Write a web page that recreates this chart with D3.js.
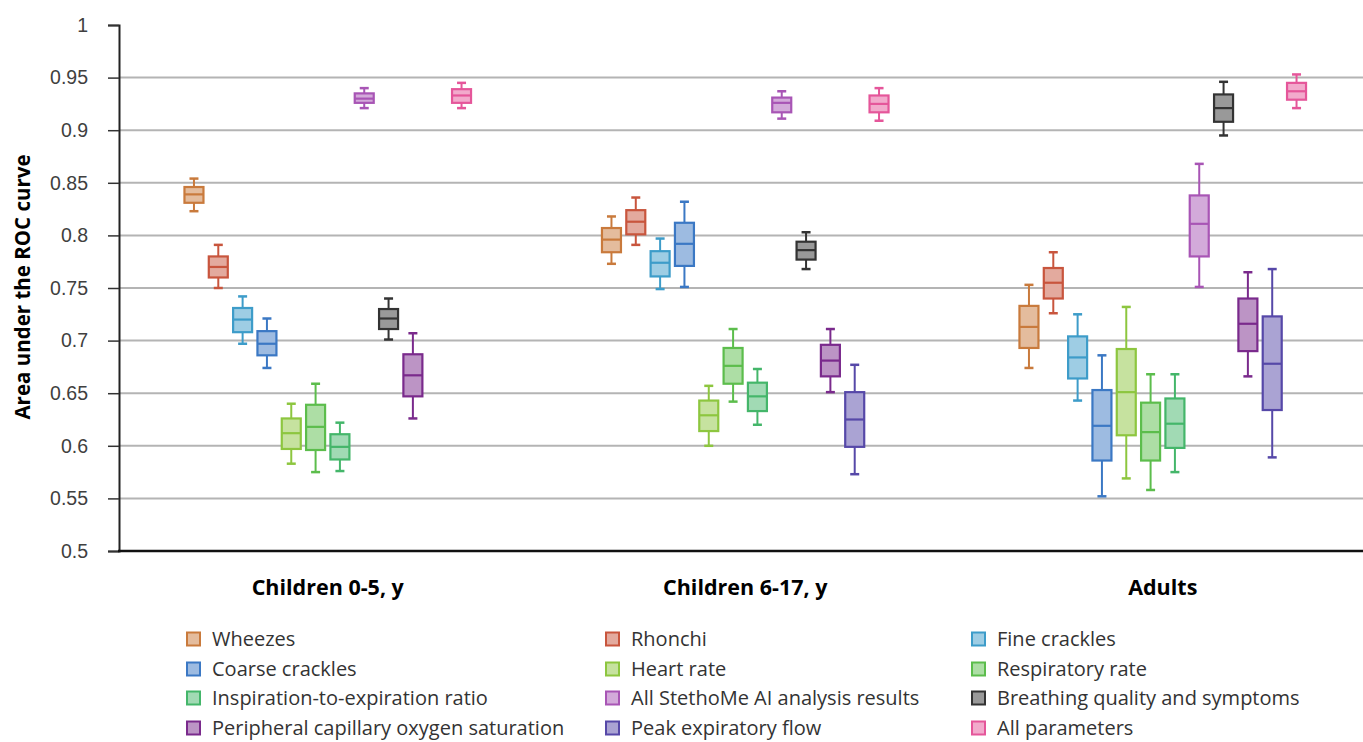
<!DOCTYPE html>
<html>
<head>
<meta charset="utf-8">
<script src="https://cdn.jsdelivr.net/npm/d3@7"></script>
<style>
  body { margin: 0; background: #fff; }
  svg { display: block; font-family: "Open Sans", "Noto Sans", sans-serif; }
</style>
</head>
<body>
<div id="chart"></div>
<script>
// groups on the x axis
const groups = ["Children 0-5, y", "Children 6-17, y", "Adults"];

// series names (legend order, also order inside each group)
const seriesNames = [
    "Wheezes", "Rhonchi", "Fine crackles",
    "Coarse crackles", "Heart rate", "Respiratory rate",
    "Inspiration-to-expiration ratio", "All StethoMe AI analysis results", "Breathing quality and symptoms",
    "Peripheral capillary oxygen saturation", "Peak expiratory flow", "All parameters"
];
const strokeColors = [
    "#c97a3c", "#c8553d", "#3d9cc9",
    "#3b78c4", "#8dc63f", "#5cbd4c",
    "#44b66a", "#a855b5", "#333333",
    "#7a2a8c", "#5648a8", "#e5569a"
];

// [low whisker, q1, median, q3, high whisker] per group
const wheezes    = [[0.823, 0.831, 0.839, 0.846, 0.854], [0.773, 0.784, 0.796, 0.807, 0.818], [0.674, 0.693, 0.713, 0.733, 0.753]];
const rhonchi    = [[0.750, 0.760, 0.770, 0.780, 0.791], [0.791, 0.801, 0.813, 0.824, 0.836], [0.726, 0.740, 0.755, 0.769, 0.784]];
const fineCr     = [[0.697, 0.708, 0.720, 0.731, 0.742], [0.749, 0.761, 0.774, 0.785, 0.797], [0.643, 0.664, 0.684, 0.704, 0.725]];
const coarseCr   = [[0.674, 0.686, 0.697, 0.709, 0.721], [0.751, 0.771, 0.792, 0.812, 0.832], [0.552, 0.586, 0.619, 0.653, 0.686]];
const heartRate  = [[0.583, 0.597, 0.612, 0.626, 0.640], [0.600, 0.614, 0.629, 0.643, 0.657], [0.569, 0.610, 0.651, 0.692, 0.732]];
const respRate   = [[0.575, 0.596, 0.618, 0.639, 0.659], [0.642, 0.659, 0.676, 0.693, 0.711], [0.558, 0.586, 0.613, 0.641, 0.668]];
const ieRatio    = [[0.576, 0.587, 0.599, 0.611, 0.622], [0.620, 0.633, 0.647, 0.660, 0.673], [0.575, 0.598, 0.621, 0.645, 0.668]];
const stethoAI   = [[0.921, 0.926, 0.930, 0.935, 0.940], [0.911, 0.917, 0.926, 0.931, 0.937], [0.751, 0.780, 0.811, 0.838, 0.868]];
const breathing  = [[0.701, 0.711, 0.721, 0.730, 0.740], [0.768, 0.777, 0.786, 0.794, 0.803], [0.895, 0.908, 0.921, 0.934, 0.946]];
const spo2       = [[0.626, 0.647, 0.667, 0.687, 0.707], [0.651, 0.666, 0.681, 0.696, 0.711], [0.666, 0.690, 0.716, 0.740, 0.765]];
const peakFlow   = [null, [0.573, 0.599, 0.625, 0.651, 0.677], [0.589, 0.634, 0.678, 0.723, 0.768]];
const allParams  = [[0.921, 0.926, 0.933, 0.939, 0.945], [0.909, 0.917, 0.925, 0.933, 0.940], [0.921, 0.929, 0.937, 0.945, 0.953]];

const seriesValues = [wheezes, rhonchi, fineCr, coarseCr, heartRate, respRate,
                      ieRatio, stethoAI, breathing, spo2, peakFlow, allParams];

const yTicks = [0.5, 0.55, 0.6, 0.65, 0.7, 0.75, 0.8, 0.85, 0.9, 0.95, 1];

const width = 1363, height = 742;
const plotLeft = 119, plotTop = 25, plotBottom = 551;
const groupWidth = 417.5;

const svg = d3.select("#chart").append("svg")
    .attr("width", width)
    .attr("height", height);

const y = d3.scaleLinear().domain([0.5, 1]).range([plotBottom, plotTop]);
const x0 = d3.scaleBand().domain(groups).range([plotLeft, plotLeft + groupWidth * groups.length]);
const x1 = d3.scaleBand().domain(seriesNames).range([62.8, groupWidth - 62.8]);

// gridlines
svg.append("g")
    .selectAll("line")
    .data(yTicks.filter(t => t > 0.5 && t < 1))
    .enter()
    .append("line")
    .attr("x1", plotLeft)
    .attr("x2", width)
    .attr("y1", d => y(d))
    .attr("y2", d => y(d))
    .attr("stroke", "#b4b4b4")
    .attr("stroke-width", 2);

// y axis
const yAxis = d3.axisLeft(y)
    .tickValues(yTicks)
    .tickSize(11)
    .tickPadding(20)
    .tickFormat(d => String(+d.toFixed(2)));
const yAxisG = svg.append("g")
    .attr("transform", `translate(${plotLeft},0)`)
    .call(yAxis);
yAxisG.select(".domain").attr("stroke", "#222").attr("stroke-width", 2);
yAxisG.selectAll(".tick line").attr("stroke", "#333").attr("stroke-width", 1.5);
yAxisG.selectAll("text")
    .attr("fill", "#404040")
    .style("font-size", "19.5px");

// bottom axis line
svg.append("line")
    .attr("x1", plotLeft - 1)
    .attr("x2", width)
    .attr("y1", plotBottom)
    .attr("y2", plotBottom)
    .attr("stroke", "#111")
    .attr("stroke-width", 2.5);

// group labels
svg.append("g")
    .selectAll("text")
    .data(groups)
    .enter()
    .append("text")
    .attr("x", d => x0(d) + x0.bandwidth() / 2)
    .attr("y", 595)
    .attr("text-anchor", "middle")
    .attr("fill", "#000")
    .style("font-size", "21.5px")
    .style("font-weight", "bold")
    .text(d => d);

// y title
svg.append("text")
    .attr("transform", `translate(30,${(plotTop + plotBottom) / 2 - 1}) rotate(-90)`)
    .attr("text-anchor", "middle")
    .attr("fill", "#000")
    .style("font-size", "20.5px")
    .style("font-weight", "bold")
    .text("Area under the ROC curve");

// boxes
const boxW = 19, capW = 9;
const boxes = [];
seriesNames.forEach((name, si) => {
    groups.forEach((g, gi) => {
        const v = seriesValues[si][gi];
        if (!v) return;
        boxes.push({ name, color: strokeColors[si], group: g, v });
    });
});

const boxG = svg.append("g")
    .selectAll("g")
    .data(boxes)
    .enter()
    .append("g")
    .attr("transform", d => `translate(${x0(d.group) + x1(d.name) + x1.bandwidth() / 2},0)`);

boxG.append("line")
    .attr("x1", 0).attr("x2", 0)
    .attr("y1", d => y(d.v[4])).attr("y2", d => y(d.v[0]))
    .attr("stroke", d => d.color)
    .attr("stroke-width", 2);
boxG.selectAll(".cap")
    .data(d => [d.v[0], d.v[4]].map(val => ({ val, color: d.color })))
    .enter()
    .append("line")
    .attr("class", "cap")
    .attr("x1", -capW / 2).attr("x2", capW / 2)
    .attr("y1", d => y(d.val)).attr("y2", d => y(d.val))
    .attr("stroke", d => d.color)
    .attr("stroke-width", 2.5);
boxG.append("rect")
    .attr("x", -boxW / 2)
    .attr("width", boxW)
    .attr("y", d => y(d.v[3]))
    .attr("height", d => y(d.v[1]) - y(d.v[3]))
    .attr("fill", "#fff");
boxG.append("rect")
    .attr("x", -boxW / 2)
    .attr("width", boxW)
    .attr("y", d => y(d.v[3]))
    .attr("height", d => y(d.v[1]) - y(d.v[3]))
    .attr("fill", d => d.color)
    .attr("fill-opacity", 0.5)
    .attr("stroke", d => d.color)
    .attr("stroke-width", 2.2);
boxG.append("line")
    .attr("x1", -boxW / 2).attr("x2", boxW / 2)
    .attr("y1", d => y(d.v[2])).attr("y2", d => y(d.v[2]))
    .attr("stroke", d => d.color)
    .attr("stroke-width", 2.2);

// legend
const legendCols = [187, 606, 972];
const legendRows = [639, 669, 698, 728];
const legend = svg.append("g")
    .selectAll("g")
    .data(seriesNames)
    .enter()
    .append("g")
    .attr("transform", (d, i) => `translate(${legendCols[i % 3]},${legendRows[Math.floor(i / 3)]})`);
legend.append("rect")
    .attr("x", 0).attr("y", -6.5)
    .attr("width", 13).attr("height", 13)
    .attr("fill", (d, i) => strokeColors[i])
    .attr("fill-opacity", 0.5)
    .attr("stroke", (d, i) => strokeColors[i])
    .attr("stroke-width", 2);
legend.append("text")
    .attr("x", 25)
    .attr("dy", "0.35em")
    .attr("fill", "#333")
    .style("font-size", "20px")
    .text(d => d);
</script>
</body>
</html>
